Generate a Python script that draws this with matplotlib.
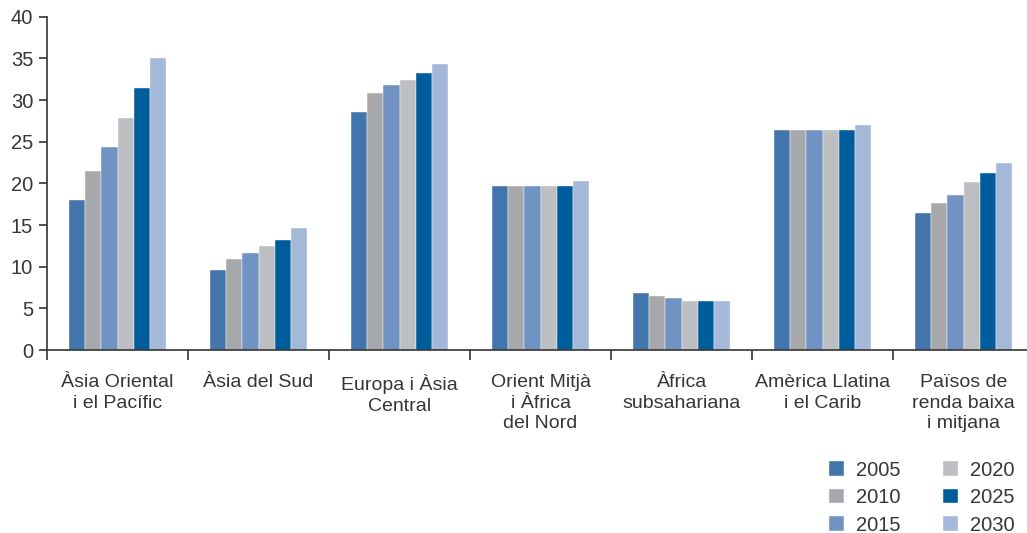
import matplotlib.pyplot as plt
import numpy as np

regions = ['Àsia Oriental\ni el Pacífic', 'Àsia del Sud', 'Europa i Àsia\nCentral',
           'Orient Mitjà\ni Àfrica\ndel Nord', 'Àfrica\nsubsahariana',
           'Amèrica Llatina\ni el Carib', 'Països de\nrenda baixa\ni mitjana']
years = ['2005', '2010', '2015', '2020', '2025', '2030']

v2005 = [18.0, 9.6, 28.6, 19.7, 6.8, 26.4, 16.4]
v2010 = [21.5, 10.9, 30.8, 19.7, 6.5, 26.4, 17.6]
v2015 = [24.4, 11.6, 31.8, 19.7, 6.2, 26.4, 18.6]
v2020 = [27.9, 12.5, 32.4, 19.7, 5.9, 26.4, 20.2]
v2025 = [31.4, 13.2, 33.3, 19.7, 5.9, 26.4, 21.2]
v2030 = [35.0, 14.7, 34.3, 20.3, 5.9, 27.0, 22.5]
series = [v2005, v2010, v2015, v2020, v2025, v2030]

colors = ['#4275ab', '#a6a8ab', '#7193c3', '#bcbec1', '#005d9b', '#a4b8d9']
textcolor = '#363636'

plt.rcParams['font.family'] = ['Liberation Sans', 'DejaVu Sans']

fig = plt.figure(figsize=(10.27, 5.33), dpi=100)
ax = fig.add_axes([47 / 1027, 1 - 350 / 533, 1 - 47 / 1027, (350 - 16.7) / 533])

x = np.arange(len(regions))
width = 0.115
for i, (vals, year) in enumerate(zip(series, years)):
    ax.bar(x + (i - 2.5) * width, vals, width, color=colors[i], label=year,
           edgecolor='white', linewidth=0.3)

ax.set_ylim(0, 40)
ax.set_xlim(-0.5, 6.45)
ax.set_yticks(range(0, 41, 5))

# category labels at centres, separator ticks between groups
ax.set_xticks(x)
ax.set_xticklabels(regions, linespacing=1.3, va='top')
ax.set_xticks(np.arange(-0.5, 6.5, 1), minor=True)
ax.tick_params(axis='x', which='major', length=0, pad=17, labelsize=14, labelcolor=textcolor)
ax.tick_params(axis='x', which='minor', length=7, width=1.2, color='#333333', direction='out')
ax.tick_params(axis='y', length=6, width=1.2, color='#333333', labelsize=14.5,
               labelcolor=textcolor, pad=4)

for s in ['top', 'right']:
    ax.spines[s].set_visible(False)
for s in ['left', 'bottom']:
    ax.spines[s].set_color('#333333')
    ax.spines[s].set_linewidth(1.2)

fig.legend(loc='lower right', bbox_to_anchor=(1.006, -0.037), ncol=2, frameon=False,
           fontsize=14.5, handlelength=0.75, handleheight=0.75, handletextpad=0.6,
           labelspacing=0.42, columnspacing=2.1, labelcolor=textcolor)

plt.savefig('out.png', dpi=100)
plt.close()
